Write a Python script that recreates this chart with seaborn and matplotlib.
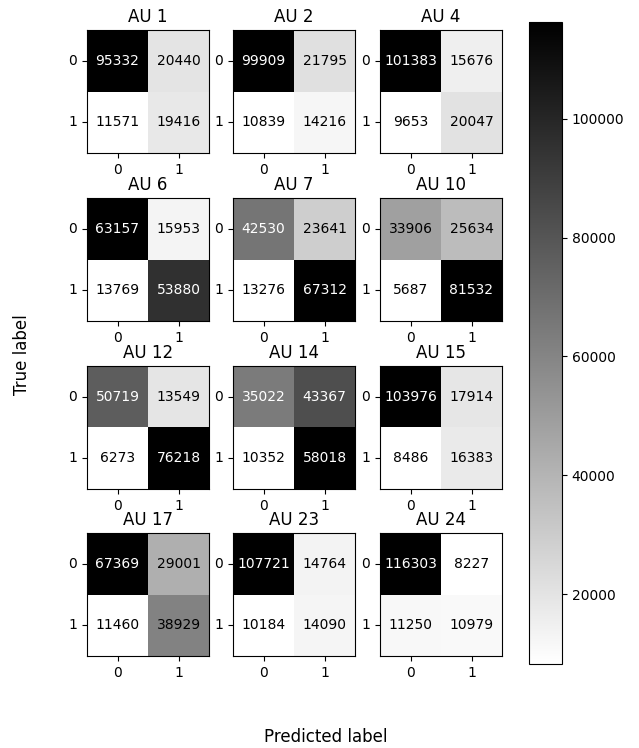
import numpy as np
import pandas as pd
import matplotlib
matplotlib.use("Agg")
import matplotlib.pyplot as plt
import seaborn as sns

au_labels = ["AU 1", "AU 2", "AU 4", "AU 6", "AU 7", "AU 10",
             "AU 12", "AU 14", "AU 15", "AU 17", "AU 23", "AU 24"]
tn = [95332, 99909, 101383, 63157, 42530, 33906, 50719, 35022, 103976, 67369, 107721, 116303]
fp = [20440, 21795, 15676, 15953, 23641, 25634, 13549, 43367, 17914, 29001, 14764, 8227]
fn = [11571, 10839, 9653, 13769, 13276, 5687, 6273, 10352, 8486, 11460, 10184, 11250]
tp = [19416, 14216, 20047, 53880, 67312, 81532, 76218, 58018, 16383, 38929, 14090, 10979]
class_labels = ["0", "1"]

W, H = 639, 748
fig = plt.figure(figsize=(W / 100, H / 100), dpi=100)

col_left = [87, 233, 380]
row_top = [30, 198, 366, 533]
aw, ah = 122, 123

cax = fig.add_axes([529 / W, 1 - 664 / H, 33 / W, (664 - 22) / H])
cmap = plt.get_cmap("gray_r")

for k, name in enumerate(au_labels):
    r, c = divmod(k, 3)
    ax = fig.add_axes([col_left[c] / W, 1 - (row_top[r] + ah) / H, aw / W, ah / H])
    cm = np.array([[tn[k], fp[k]], [fn[k], tp[k]]])
    df = pd.DataFrame(cm, index=class_labels, columns=class_labels)
    last = (k == len(au_labels) - 1)
    sns.heatmap(df, ax=ax, cmap=cmap, annot=True, fmt="d",
                annot_kws={"fontsize": 10}, cbar=last,
                cbar_ax=cax if last else None, square=False)
    thresh = (cm.max() + cm.min()) / 2.0
    for t in ax.texts:
        v = int(t.get_text())
        t.set_color(cmap(0.0) if v >= thresh else cmap(1.0))
    for s in ax.spines.values():
        s.set_visible(True)
        s.set_linewidth(0.8)
        s.set_color("black")
    ax.set_title(name, fontsize=12)
    ax.set_xlabel("")
    ax.set_ylabel("")
    ax.tick_params(axis="both", length=3.5, width=0.8, labelsize=10)
    ax.set_yticklabels(class_labels, rotation=0, va="center")
    ax.set_xticklabels(class_labels, rotation=0)
    if last:
        cb = ax.collections[0].colorbar
        cb.outline.set_visible(True)
        cb.outline.set_linewidth(0.8)
        cb.set_ticks([20000, 40000, 60000, 80000, 100000])
        cb.ax.tick_params(labelsize=10, length=3.5, width=0.8)

fig.text(326 / W, 1 - 737 / H, "Predicted label", ha="center", va="center", fontsize=12)
fig.text(22 / W, 1 - 355 / H, "True label", ha="center", va="center", rotation=90, fontsize=12)

fig.savefig("out.png", dpi=100)
